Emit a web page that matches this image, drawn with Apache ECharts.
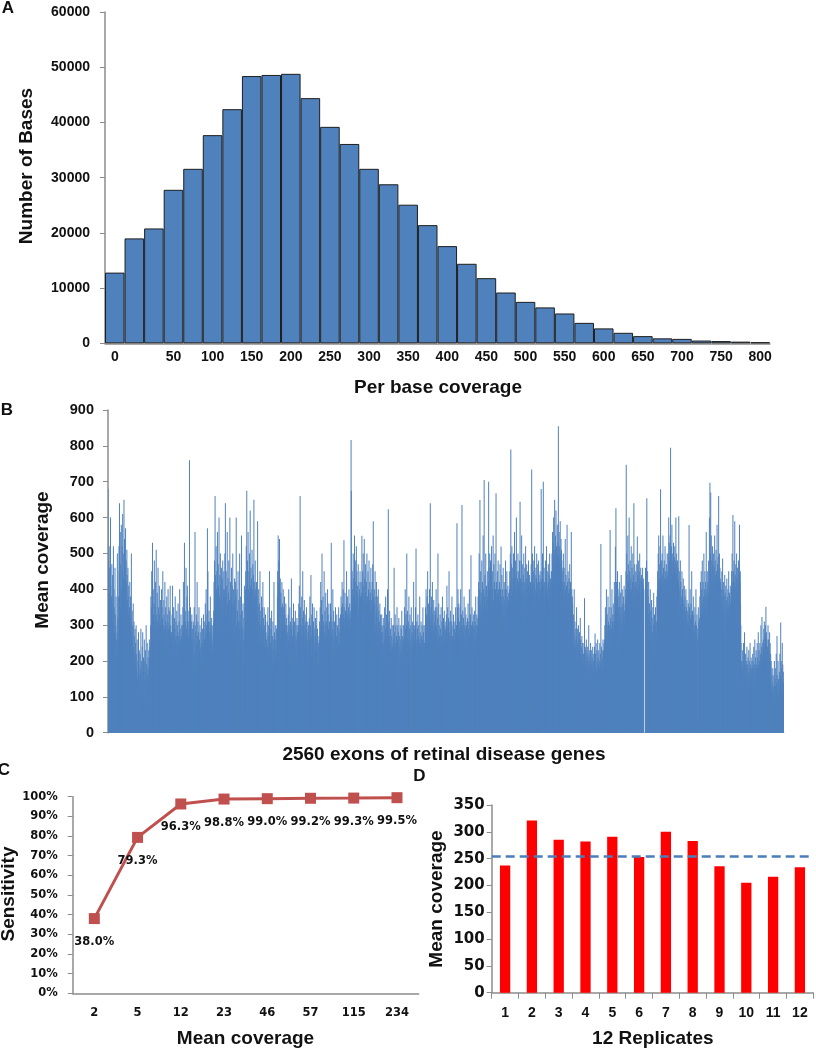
<!DOCTYPE html>
<html><head><meta charset="utf-8">
<script src="https://cdn.jsdelivr.net/npm/echarts/dist/echarts.min.js"></script>
<style>html,body{margin:0;padding:0;background:#fff}#chart{width:816px;height:1050px}</style>
</head><body><div id="chart"></div>
<script>
// ---- Panel A: histogram of per-base coverage ----
const histLabels = ['0','','','50','','100','','150','','200','','250','','300','','350','','400','','450','','500','','550','','600','','650','','700','','750','','800'];
const histCounts = [12800,19000,20800,27800,31600,37700,42400,48400,48600,48800,44400,39200,36100,31600,28800,25100,
  21400,17600,14400,11800,9200,7500,6500,5400,3700,2700,1900,1300,900,800,500,400,300,200];
const histTicks = [0,10000,20000,30000,40000,50000,60000];

// ---- Panel B: mean coverage of 2560 exons ----
const exonCoverage = [
680,480,440,300,520,390,460,270,350,600,410,330,250,380,470,310,290,440,360,250,520,300,400,350,280,240,460,330,210,300,380,260,220,10,280,500,240,320,260,230,
380,520,450,640,300,410,560,350,470,290,580,400,330,520,450,610,360,290,430,500,650,380,540,460,300,410,570,350,480,420,330,510,440,370,300,460,380,330,410,290,
280,350,420,300,260,380,250,320,500,280,220,340,260,300,200,360,240,180,310,270,220,160,290,200,250,140,300,180,220,170,260,60,150,200,120,280,190,160,230,130,
160,220,110,180,290,140,200,90,170,240,130,280,150,100,210,180,120,260,90,200,150,230,110,170,300,140,190,100,250,160,120,210,180,140,230,160,260,200,240,220,
250,300,380,240,350,450,280,320,530,300,260,400,330,290,360,480,270,310,250,420,350,300,510,280,330,260,390,310,240,460,290,350,300,270,410,330,280,250,370,300,
310,260,400,290,350,230,320,450,280,300,250,370,330,240,290,420,270,310,350,260,300,240,380,280,330,250,310,400,260,290,350,230,300,340,270,410,250,300,280,260,
280,230,330,260,410,250,300,220,350,270,240,320,200,290,380,260,230,310,270,210,340,250,300,190,280,360,240,270,220,310,250,400,230,290,260,210,330,270,240,300,
260,300,220,350,280,420,240,310,260,530,290,230,340,270,310,460,250,290,220,380,410,300,250,340,270,220,310,290,760,260,230,300,350,240,280,310,200,330,260,290,
240,200,310,180,300,260,350,220,190,560,280,0,300,170,330,250,200,420,270,190,310,230,280,180,350,220,260,190,300,240,210,280,170,250,320,200,230,290,180,260,
250,330,220,290,250,260,310,230,360,280,240,400,270,300,220,330,570,290,450,260,310,240,340,280,220,310,260,380,230,290,300,270,320,250,300,230,0,260,280,310,
340,420,300,480,380,660,350,440,310,520,400,360,450,330,560,390,300,470,410,350,600,380,320,440,370,500,340,410,300,460,380,350,430,290,480,360,400,330,450,380,
400,350,500,300,640,380,260,450,330,410,280,560,360,310,430,250,390,480,320,370,290,600,350,420,270,380,330,460,240,360,410,300,500,350,280,400,320,370,260,430,
350,280,420,230,380,600,300,250,400,200,340,280,450,220,310,370,180,290,500,240,330,260,380,210,300,550,270,230,340,190,290,360,50,260,320,200,410,280,240,350,
400,450,330,520,380,675,420,350,480,310,560,400,370,450,340,500,390,330,620,410,360,460,320,430,380,510,350,400,470,330,440,370,650,390,350,420,310,480,380,400,
360,300,420,250,380,330,590,280,350,220,400,310,270,360,200,450,300,250,340,180,310,380,230,290,350,200,420,270,320,160,290,350,240,300,180,260,330,210,280,240,
260,200,310,240,180,350,270,220,300,160,280,450,230,190,320,250,210,290,170,340,240,200,270,150,310,230,190,260,420,210,280,170,240,300,200,260,180,230,290,210,
300,380,450,350,550,420,480,330,400,540,370,300,430,260,390,30,350,280,420,310,360,250,330,400,290,350,240,310,380,270,330,230,300,360,280,240,320,270,300,250,
280,220,330,260,400,240,300,190,350,270,230,310,180,290,430,250,210,320,270,200,300,240,360,220,280,190,310,250,230,340,200,270,300,180,260,320,230,280,210,300,
300,250,360,280,410,230,330,660,290,350,260,300,220,380,270,320,240,450,290,260,340,210,300,370,250,280,330,200,310,270,240,350,290,0,260,220,310,280,250,300,
280,230,320,260,380,210,300,250,440,270,220,330,190,290,360,240,280,210,310,260,350,230,200,290,270,320,180,250,300,220,340,260,230,290,210,270,250,190,20,240,
260,310,240,350,280,420,300,230,370,260,500,290,330,220,380,270,310,250,450,280,240,340,300,260,390,230,310,270,350,220,300,400,260,330,240,290,360,250,310,280,
300,250,360,200,330,530,270,220,310,180,290,400,240,200,340,260,70,310,230,280,190,350,250,300,210,270,330,180,260,300,220,290,240,350,200,280,250,320,230,290,
330,280,380,310,350,290,420,300,360,270,400,330,300,537,350,280,320,390,300,340,270,310,360,450,300,330,290,380,320,270,350,310,400,330,290,360,300,340,280,320,
816,675,420,380,450,360,400,350,500,380,430,330,460,550,400,370,480,350,420,300,520,390,450,360,410,330,380,470,0,350,420,300,400,360,450,320,380,420,340,390,
380,549,420,330,450,360,500,300,410,380,540,350,430,300,390,470,340,280,420,360,500,310,380,330,450,290,400,350,480,320,370,420,300,390,340,460,310,370,330,400,
420,350,470,300,590,380,320,77,400,280,360,450,300,250,380,330,420,270,350,300,240,380,320,400,260,340,290,220,310,360,270,330,240,300,200,280,330,250,300,220,
280,220,320,250,200,300,180,350,260,230,290,380,210,270,330,190,250,300,400,220,280,623,260,310,190,270,340,230,200,290,250,180,320,230,270,210,300,240,190,260,
250,300,200,460,230,280,170,330,250,200,300,150,270,230,350,190,260,300,210,280,140,320,240,200,270,180,300,230,260,150,290,210,340,250,190,270,230,300,200,260,
300,240,350,270,210,400,290,250,330,180,300,500,260,220,340,270,200,310,250,380,230,290,210,330,260,200,300,240,350,0,280,220,310,250,270,300,230,420,260,290,
250,300,220,280,350,200,514,260,230,310,180,290,250,330,210,270,300,190,260,240,380,220,280,250,200,310,170,270,240,300,220,260,350,190,280,240,300,210,250,230,
300,260,350,280,400,230,330,290,380,250,450,310,270,360,220,330,290,400,260,320,640,300,270,350,240,380,310,280,420,260,330,300,250,370,290,340,230,310,280,350,
330,270,400,230,300,350,260,200,320,500,280,240,360,220,300,270,180,330,250,290,210,350,270,130,310,250,380,230,290,260,320,200,280,340,240,300,260,220,290,310,
280,330,240,410,300,260,350,220,290,320,250,450,280,230,310,270,200,340,260,290,230,310,380,250,270,220,300,260,330,240,200,290,260,310,230,280,350,250,270,300,
300,584,280,350,250,400,320,270,360,230,310,50,290,350,260,400,300,220,330,270,635,300,250,340,280,230,320,270,380,250,300,260,350,220,290,330,260,300,240,310,
280,320,250,360,290,230,310,270,400,260,300,240,330,280,495,260,300,230,350,270,310,250,290,330,220,300,270,340,250,290,310,260,380,240,300,280,330,260,300,290,
320,380,290,420,350,500,300,400,649,360,330,450,280,390,340,480,310,370,420,300,550,350,400,330,705,380,300,440,360,320,500,390,340,410,300,380,450,330,370,400,
420,700,380,460,350,500,400,330,480,370,430,300,520,390,350,450,320,400,550,370,340,470,310,420,380,500,350,400,30,668,360,420,380,330,450,390,350,480,400,370,
380,330,420,360,470,300,400,350,519,380,320,440,360,290,400,350,460,310,380,330,420,280,370,400,340,480,310,360,400,330,450,300,380,350,410,320,370,390,340,360,
400,450,370,500,420,790,380,470,350,520,430,390,460,130,410,500,370,440,400,560,380,430,350,480,410,370,600,400,450,360,430,390,500,370,420,450,350,410,480,390,
644,380,430,350,480,400,550,360,420,330,470,390,440,350,500,380,420,310,460,400,360,520,380,430,340,470,400,370,450,330,420,390,480,360,410,380,440,350,400,420,
420,380,470,400,734,430,360,500,410,380,450,350,480,420,390,520,370,440,65,400,460,380,430,500,360,420,390,470,410,350,480,400,440,380,420,360,450,400,380,430,
680,420,380,450,400,500,350,430,700,410,380,460,340,420,20,400,480,370,430,390,520,360,410,450,380,400,350,470,420,390,440,370,500,410,380,430,360,400,450,420,
450,500,420,560,480,530,400,600,470,510,450,650,490,430,550,480,620,460,520,500,440,580,490,530,470,855,500,450,560,480,520,430,590,470,500,540,450,510,480,460,
420,380,450,350,500,400,330,460,380,420,350,540,400,370,440,300,410,380,580,360,420,330,450,390,350,430,310,400,470,350,390,420,330,380,560,350,400,320,380,360,
300,250,330,220,280,400,240,200,310,260,230,290,180,270,350,220,250,200,290,240,170,300,230,260,210,280,190,250,320,220,260,180,240,200,270,230,160,250,220,200,
220,180,250,200,375,210,170,240,190,230,160,260,200,180,220,150,240,190,210,170,300,200,230,160,190,220,180,250,170,200,150,230,190,210,170,240,180,200,160,220,
200,170,240,150,277,190,220,160,250,180,140,230,200,170,260,150,210,190,230,140,200,180,250,160,220,190,526,170,240,200,150,230,180,210,260,170,230,200,250,220,
260,300,240,350,280,320,250,400,290,270,330,240,300,380,260,310,280,350,240,300,0,565,280,320,260,350,290,240,400,310,270,330,250,360,290,310,270,420,300,330,
380,519,350,626,300,420,260,370,330,450,290,400,350,240,380,310,420,270,350,330,200,390,300,440,260,350,310,400,280,360,230,330,380,290,410,270,340,300,360,320,
400,450,747,380,500,350,440,400,550,330,470,420,360,600,400,450,310,480,390,430,350,520,400,370,460,330,420,500,380,440,350,640,410,380,470,340,420,390,450,400,
420,380,470,350,547,400,440,330,480,390,360,450,410,500,370,430,340,460,400,380,440,350,420,390,460,410,370,430,400,0,0,0,0,0,400,460,380,420,350,480,
654,400,350,450,300,380,250,420,330,280,360,200,310,400,260,340,180,300,370,240,320,150,280,350,220,300,390,260,180,330,240,300,210,350,280,160,310,260,380,300,
400,450,380,500,420,550,350,470,430,390,520,410,679,450,380,480,420,360,500,440,400,550,380,460,420,350,480,430,400,520,370,450,410,390,470,430,380,500,420,440,
450,500,420,600,470,530,400,480,550,430,795,500,460,520,420,580,480,440,500,410,470,530,450,400,490,460,520,430,480,440,600,470,420,500,450,380,480,430,460,410,
420,604,380,450,330,400,360,480,310,420,350,380,300,450,340,400,280,370,430,320,360,290,410,350,300,380,260,340,400,310,350,280,370,320,260,340,300,360,280,330,
579,300,350,260,400,320,280,360,230,330,450,290,250,340,300,220,380,280,330,250,300,200,350,270,310,240,400,280,300,220,330,260,30,290,240,350,270,310,250,300,
320,380,290,420,350,300,450,330,400,280,480,360,320,420,380,300,500,350,400,330,450,290,380,420,350,560,330,400,300,450,370,420,340,390,480,360,410,600,380,697,
450,500,670,420,550,380,480,450,400,520,360,470,430,500,390,460,420,550,380,480,440,400,510,370,450,430,580,400,470,420,490,380,660,450,420,500,380,460,430,410,
420,350,400,300,450,380,330,486,360,400,280,420,350,380,300,440,330,390,260,410,350,370,300,430,340,380,280,400,350,320,450,360,300,390,340,280,410,360,330,380,
400,450,360,500,420,380,607,400,450,350,480,420,380,590,400,440,360,470,410,380,500,430,390,460,350,420,400,480,370,440,410,580,380,420,450,360,300,250,200,180,
150,200,130,230,180,160,250,140,200,120,280,170,190,150,220,130,180,200,110,240,160,190,140,210,170,120,230,160,200,140,180,250,130,190,160,210,140,180,200,170,
180,220,150,200,130,240,170,190,150,260,180,140,210,170,230,120,190,160,250,180,210,150,280,190,170,230,200,160,250,190,220,180,300,210,240,190,323,220,200,250,
230,260,200,290,240,310,220,270,190,300,250,351,230,280,200,260,180,240,220,300,200,260,170,230,210,280,190,250,150,220,180,200,0,120,160,140,100,180,0,130,
120,160,100,200,80,150,0,130,180,90,220,140,110,270,160,0,120,200,100,150,80,0,170,130,220,100,160,307,140,200,120,180,100,250,150,190,120,170,140,100
];

// ---- Panel C: sensitivity vs mean coverage ----
const covCategories = ['2','5','12','23','46','57','115','234'];
const sensitivity = [38.0,79.3,96.3,98.8,99.0,99.2,99.3,99.5];

// ---- Panel D: 12 replicates ----
const replicates = ['1','2','3','4','5','6','7','8','9','10','11','12'];
const replicateCoverage = [237,321,285,282,291,253,300,283,236,205,216,234];
const replicateReference = 254;

const TXT = '#111';
const AX = '#8C8C8C';
const titleFont = 'bold 19px "Liberation Sans", Arial, sans-serif';
const letterFont = 'bold 17px "Liberation Sans", Arial, sans-serif';

function gtext(x, y, text, font, rot) {
  return { type: 'text', x: x, y: y, rotation: rot || 0, silent: true,
    style: { text: text, font: font, fill: TXT, textAlign: 'center', textVerticalAlign: 'middle' } };
}

const chart = echarts.init(document.getElementById('chart'), null, { renderer: 'canvas' });
const arialTick = { fontFamily: '"Liberation Sans", Arial, sans-serif', fontWeight: 'bold', fontSize: 14, color: TXT };
const dejaTick = (s) => ({ fontFamily: '"DejaVu Sans", sans-serif', fontWeight: 'bold', fontSize: s, color: TXT });

chart.setOption({
  animation: false,
  backgroundColor: '#fff',
  grid: [
    { left: 105, top: 12, width: 665, height: 331.3, outerBoundsMode: 'none' },
    { left: 108, top: 410, width: 676, height: 322.7, outerBoundsMode: 'none' },
    { left: 72.7, top: 796.7, width: 345.9, height: 196.6, outerBoundsMode: 'none' },
    { left: 491.7, top: 805, width: 321.6, height: 187.7, outerBoundsMode: 'none' }
  ],
  xAxis: [
    { gridIndex: 0, type: 'category', data: histLabels,
      axisLine: { lineStyle: { color: AX, width: 1.5 } }, axisTick: { show: false },
      axisLabel: Object.assign({ interval: 0, margin: 7 }, arialTick), splitLine: { show: false } },
    { gridIndex: 1, type: 'category',
      axisLine: { lineStyle: { color: '#B4C7E0', width: 1 } }, axisTick: { show: false },
      axisLabel: { show: false }, splitLine: { show: false } },
    { gridIndex: 2, type: 'category', data: covCategories, boundaryGap: true,
      axisLine: { lineStyle: { color: AX, width: 1.5 } }, axisTick: { show: false },
      axisLabel: Object.assign({ interval: 0, margin: 14 }, dejaTick(11.5)), splitLine: { show: false } },
    { gridIndex: 3, type: 'category', data: replicates, boundaryGap: true,
      axisLine: { lineStyle: { color: AX, width: 1.5 } },
      axisTick: { show: true, length: 6, lineStyle: { color: AX } },
      axisLabel: Object.assign({ interval: 0, margin: 13 }, arialTick), splitLine: { show: false } }
  ],
  yAxis: [
    { gridIndex: 0, type: 'value', min: 0, max: 60000, interval: 10000,
      axisLine: { show: true, lineStyle: { color: AX, width: 1.5 } },
      axisTick: { show: true, length: 5, lineStyle: { color: AX } },
      axisLabel: Object.assign({ margin: 15, formatter: (v) => String(v) }, arialTick), splitLine: { show: false } },
    { gridIndex: 1, type: 'value', min: 0, max: 900, interval: 100,
      axisLine: { show: true, lineStyle: { color: AX, width: 1.5 } },
      axisTick: { show: true, length: 5, lineStyle: { color: AX } },
      axisLabel: Object.assign({ margin: 14, formatter: (v) => String(v) }, arialTick, { fontSize: 14.5 }), splitLine: { show: false } },
    { gridIndex: 2, type: 'value', min: 0, max: 100, interval: 10,
      axisLine: { show: true, lineStyle: { color: AX, width: 1.5 } },
      axisTick: { show: true, length: 5, lineStyle: { color: AX } },
      axisLabel: Object.assign({ margin: 15, formatter: (v) => v + '%' }, dejaTick(11.5)), splitLine: { show: false } },
    { gridIndex: 3, type: 'value', min: 0, max: 350, interval: 50,
      axisLine: { show: true, lineStyle: { color: AX, width: 1.5 } },
      axisTick: { show: true, length: 5, lineStyle: { color: AX } },
      axisLabel: Object.assign({ margin: 7, formatter: (v) => String(v) }, dejaTick(15)), splitLine: { show: false } }
  ],
  series: [
    { type: 'bar', xAxisIndex: 0, yAxisIndex: 0, data: histCounts, barCategoryGap: '0%',
      itemStyle: { color: '#4F81BD', borderColor: '#1E1E1E', borderWidth: 1 } },
    { type: 'bar', xAxisIndex: 1, yAxisIndex: 1, data: exonCoverage, barWidth: 1,
      large: false, progressive: 0,
      itemStyle: { color: '#4F81BD' } },
    { type: 'line', xAxisIndex: 2, yAxisIndex: 2, data: sensitivity,
      symbol: 'rect', symbolSize: 11,
      lineStyle: { color: '#C0504D', width: 3 }, itemStyle: { color: '#C0504D' },
      label: { show: true, position: 'bottom', distance: 12, formatter: (p) => p.value.toFixed(1) + '%',
        fontFamily: '"DejaVu Sans", sans-serif', fontWeight: 'bold', fontSize: 11.5, color: TXT } },
    { type: 'bar', xAxisIndex: 3, yAxisIndex: 3, data: replicateCoverage, barWidth: 10.3,
      itemStyle: { color: '#FF0000' },
      markLine: { silent: true, symbol: 'none', label: { show: false },
        lineStyle: { color: '#4A7EBB', type: [9, 5], width: 2.5 },
        data: [{ yAxis: replicateReference }] } }
  ],
  graphic: [
    gtext(8, 8, 'A', letterFont),
    gtext(26.5, 166, 'Number of Bases', titleFont, Math.PI / 2),
    gtext(438, 388, 'Per base coverage', titleFont),
    gtext(7, 410, 'B', letterFont),
    gtext(43, 560, 'Mean coverage', titleFont, Math.PI / 2),
    gtext(444, 755, '2560 exons of retinal disease genes', titleFont),
    gtext(4, 770, 'C', letterFont),
    gtext(9, 894, 'Sensitivity', titleFont, Math.PI / 2),
    gtext(245.5, 1039, 'Mean coverage', titleFont),
    gtext(419.5, 776, 'D', letterFont),
    gtext(436.7, 899, 'Mean coverage', titleFont, Math.PI / 2),
    gtext(652.8, 1039, '12 Replicates', titleFont)
  ]
});
</script></body></html>
